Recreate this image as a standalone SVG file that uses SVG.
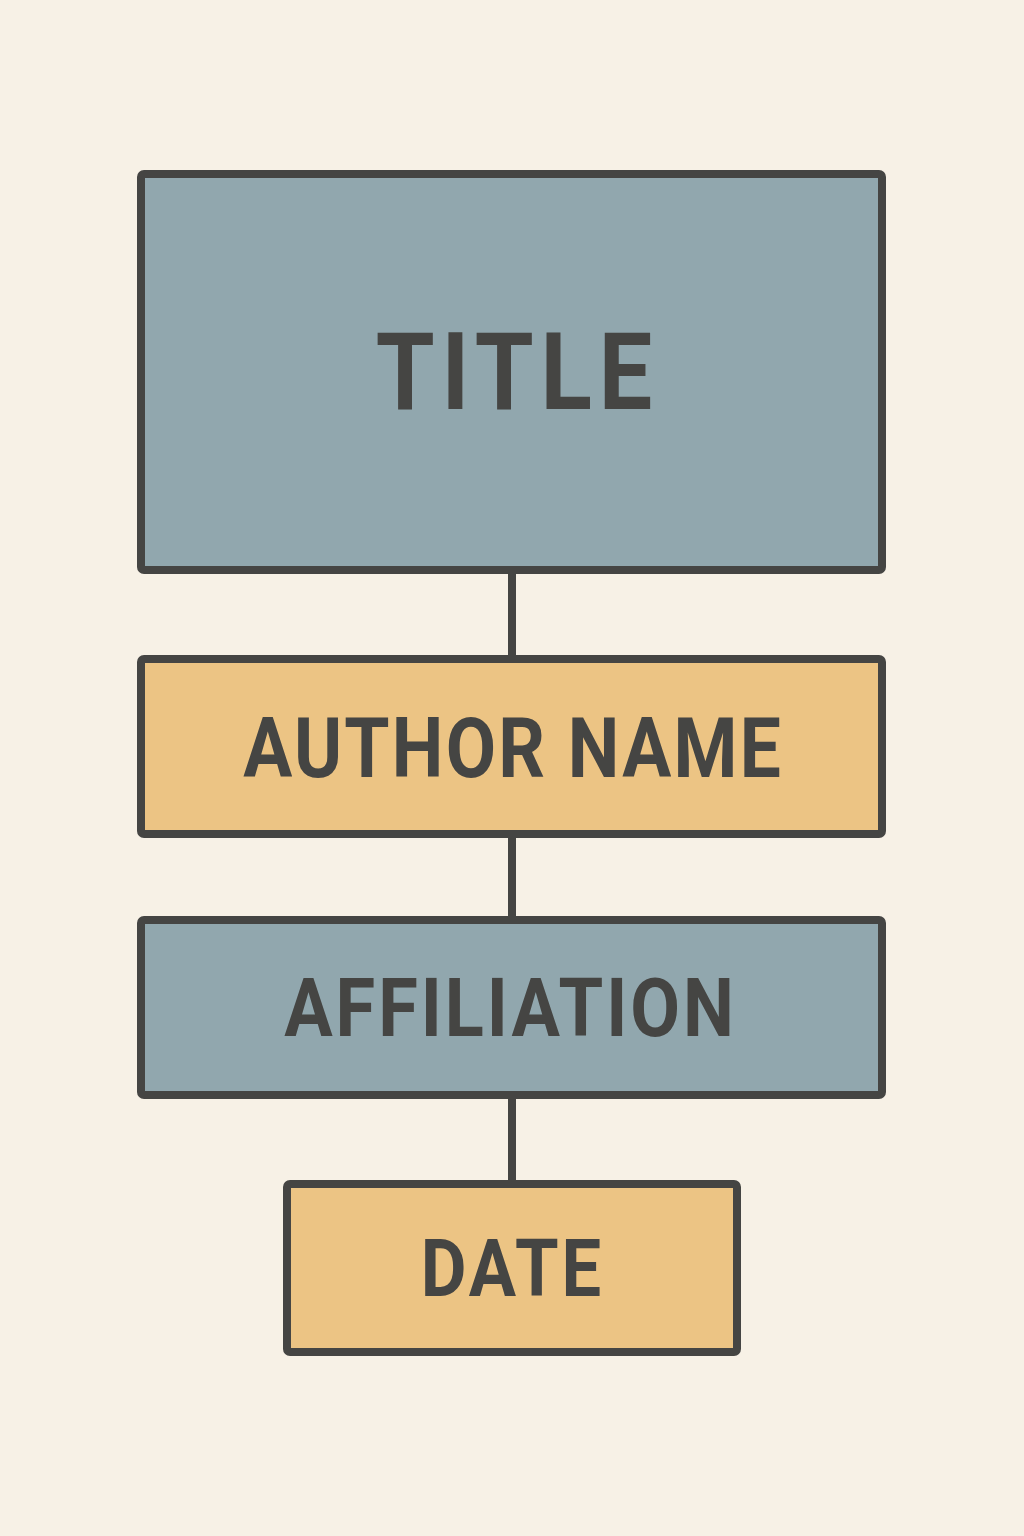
<svg xmlns="http://www.w3.org/2000/svg" width="1024" height="1536" viewBox="0 0 1024 1536">
<style>
.box{stroke:#454543;stroke-width:8;stroke-linejoin:round}
.blue{fill:#91a7ae}
.orange{fill:#ecc484}
.lbl{font-family:Roboto,"Liberation Sans",sans-serif;font-weight:700;fill:#454543;text-anchor:middle}
.conn{stroke:#454543;stroke-width:8;fill:none}
</style>
<rect width="1024" height="1536" fill="#f7f1e6"/>
<g id="connectors">
<line class="conn" x1="512" y1="574" x2="512" y2="659"/>
<line class="conn" x1="512" y1="835" x2="512" y2="920"/>
<line class="conn" x1="512" y1="1096" x2="512" y2="1184"/>
</g>
<g id="title">
<rect class="box blue" x="141" y="174" width="741" height="396" rx="3"/>
<text class="lbl" transform="translate(514 409) scale(0.88 1)" x="0" y="0" font-size="108" textLength="314" lengthAdjust="spacing">TITLE</text>
</g>
<g id="author">
<rect class="box orange" x="141" y="659" width="741" height="175" rx="3"/>
<text class="lbl" transform="translate(512 777) scale(0.88 1)" x="0" y="0" font-size="83" textLength="611" lengthAdjust="spacing">AUTHOR NAME</text>
</g>
<g id="affiliation">
<rect class="box blue" x="141" y="920" width="741" height="175" rx="3"/>
<text class="lbl" transform="translate(509 1036) scale(0.88 1)" x="0" y="0" font-size="82" textLength="511" lengthAdjust="spacing">AFFILIATION</text>
</g>
<g id="date">
<rect class="box orange" x="287" y="1184" width="450" height="168" rx="3"/>
<text class="lbl" transform="translate(511 1296) scale(0.88 1)" x="0" y="0" font-size="80" textLength="205" lengthAdjust="spacing">DATE</text>
</g>
</svg>
